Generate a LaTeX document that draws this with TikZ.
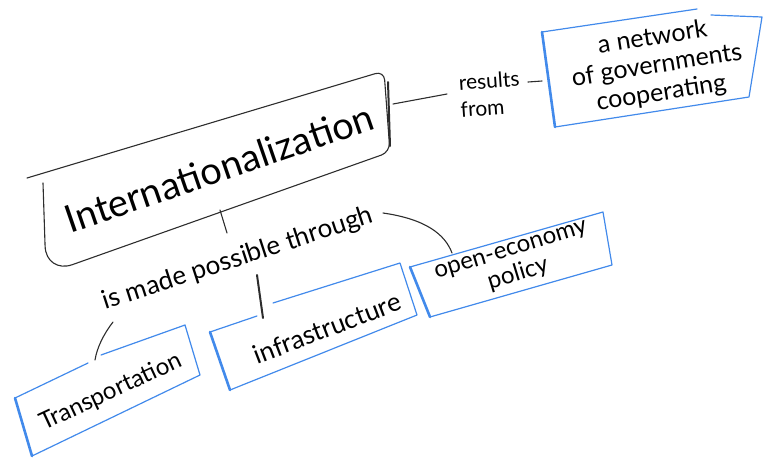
\documentclass[tikz,border=0pt]{standalone}
\usepackage{fontspec}
\setmainfont{Lato}
\definecolor{boxblue}{RGB}{66,138,235}
\definecolor{ink}{RGB}{45,45,45}
\begin{document}
\begin{tikzpicture}[x=1pt,y=-1pt,
  inkline/.style={draw=ink,line width=1.1pt,line cap=round,line join=round},
  inkbold/.style={draw=ink,line width=2pt,line cap=round,line join=round},
  blueline/.style={draw=boxblue,line width=1.2pt,line cap=round,line join=round},
  bluebold/.style={draw=boxblue,line width=2.6pt,line cap=round},
  txt/.style={inner sep=0pt,text=black,align=center}]
\useasboundingbox (0,0) rectangle (764,459);
% ---------- main concept ----------
\coordinate (mA) at (27,178);
\coordinate (mB) at (384,71);
\coordinate (mC) at (390,152);
\coordinate (mD) at (46,274);
\coordinate (mE) at (43,183);
\draw[inkline] (mA) [rounded corners=9pt] -- (mB) -- (mC) [rounded corners=28pt] -- (mD) -- (mE);
\draw[inkbold] (388,82) -- (390,146);
\node[txt,rotate=19,font=\fontsize{38}{42}\selectfont] (main) at (219,168) {Internationalization};
% ---------- results from ----------
\coordinate (mR) at (393,104);
\node[txt,rotate=4,align=left,font=\fontsize{21}{27}\selectfont] (rf) at (490,94) {results\\from};
\coordinate (rfL) at (447,94);
\draw[inkline] (mR) -- (rfL);
\coordinate (rfR) at (528,82);
\coordinate (nL) at (542,81);
\draw[inkline] (rfR) -- (nL);
% network box
\coordinate (n1) at (542,32);
\coordinate (n2) at (697,9);
\coordinate (n3) at (711,15);
\coordinate (n4) at (762,17);
\coordinate (n5) at (749,97);
\coordinate (n6) at (555,127);
\draw[blueline] (n1) -- (n2);
\draw[blueline] (n3) -- (n4) -- (n5) -- (n6);
\draw[bluebold] (n1) -- (n6);
\node[txt,rotate=9,font=\fontsize{25}{28}\selectfont] (net) at (657,66) {a network\\of governments\\cooperating};
% ---------- linking phrase ----------
\node[txt,rotate=18,font=\fontsize{26}{30}\selectfont] (link) at (238,259) {is made possible through};
\coordinate (mBot) at (220,210);
\coordinate (lTop) at (227,233);
\draw[inkline] (mBot) -- (lTop);
% transportation
\coordinate (lT) at (113,322);
\coordinate (t1) at (15,398);
\coordinate (tg1) at (88,363);
\coordinate (tg) at (95,360);
\coordinate (tg2) at (101,355);
\coordinate (t2) at (185,325);
\coordinate (t3) at (200,375);
\coordinate (t4) at (32,456);
\draw[inkline] (lT) .. controls (103,335) and (97,348) .. (tg);
\draw[blueline] (t1) -- (tg1);
\draw[blueline] (tg2) -- (t2) -- (t3) -- (t4);
\draw[bluebold] (t1) -- (t4);
\node[txt,rotate=25,font=\fontsize{24}{28}\selectfont] (trans) at (111,392) {Transportation};
% infrastructure
\coordinate (lI) at (257,275);
\coordinate (ig) at (263,318);
\coordinate (i1) at (210,332);
\coordinate (ig1) at (257,316);
\coordinate (ig2) at (273,303);
\coordinate (i2) at (400,263);
\coordinate (i3) at (417,315);
\coordinate (i4) at (230,390);
\draw[inkbold] (lI) -- (ig);
\draw[blueline] (i1) -- (ig1);
\draw[blueline] (ig2) -- (i2) -- (i3) -- (i4);
\draw[bluebold] (i1) -- (i4);
\node[txt,rotate=21,font=\fontsize{26}{30}\selectfont] (infra) at (327,328) {infrastructure};
% open-economy policy
\coordinate (lO) at (383,213);
\coordinate (o1) at (410,267);
\coordinate (og) at (452,253);
\coordinate (o2) at (603,212);
\coordinate (o3) at (612,265);
\coordinate (o4) at (430,317);
\draw[inkline] (lO) .. controls (425,219) and (445,234) .. (og);
\draw[blueline] (o1) -- (o2) -- (o3) -- (o4);
\draw[bluebold] (o1) -- (o4);
\node[txt,rotate=17,font=\fontsize{24}{26}\selectfont] (open) at (515,264) {open-economy\\policy};
\end{tikzpicture}
\end{document}
